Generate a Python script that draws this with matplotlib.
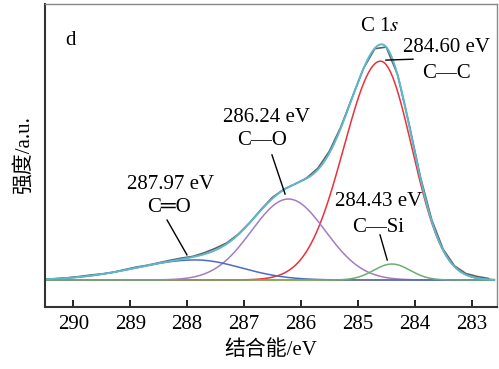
import numpy as np
import matplotlib
matplotlib.use('Agg')
import matplotlib.pyplot as plt

plt.rcParams['font.family'] = ['Liberation Serif', 'DejaVu Sans', 'Noto Sans CJK SC']
plt.rcParams['mathtext.fontset'] = 'stix'

# fitted components: centre, height, left / right sigma (eV)
names = ["C—C", "C—O", "C═O", "C—Si"]
centers = [284.60, 286.22, 287.85, 284.40]
heights = [0.916, 0.339, 0.084, 0.067]
sig_left = [0.645, 0.65, 1.05, 0.32]
sig_right = [0.55, 0.65, 0.80, 0.32]
colors = ["#e8323c", "#a47cc2", "#4a6cc8", "#6aae72"]

# measured spectrum: deviation from the envelope, every 0.2 eV
e_meas = np.round(np.arange(290.5, 282.55, -0.2), 2)
resid = [0.0, 0.0, 0.001, 0.002, 0.003, 0.001, 0.0, 0.002, 0.003, 0.001,
         0.002, 0.004, 0.005, 0.003, 0.006, 0.008, 0.004, 0.002, 0.001, 0.003,
         0.005, 0.002, 0.0, 0.002, 0.006, 0.008, 0.005, 0.002, 0.0, -0.002,
         0.0, 0.002, 0.004, 0.005, 0.006, 0.004, 0.003, 0.005, 0.007, 0.004]

energy = np.linspace(290.6, 282.6, 800)


def peak(e, c, h, sl, sr):
    s = np.where(e > c, sl, sr)
    return h * np.exp(-(e - c) ** 2 / (2 * s ** 2))


fig = plt.figure(figsize=(4.99, 3.69), dpi=100)
ax = fig.add_axes([0.0902, 0.168, 0.906, 0.821])

comps = [peak(energy, c, h, a, b) for c, h, a, b in zip(centers, heights, sig_left, sig_right)]
envelope = np.sum(comps, axis=0)
meas = np.sum([peak(e_meas, c, h, a, b) for c, h, a, b in
               zip(centers, heights, sig_left, sig_right)], axis=0) + np.array(resid)

ax.plot(energy, np.zeros_like(energy), color="#d8a21e", lw=1.3)
for y, col in zip(comps, colors):
    ax.plot(energy, y, color=col, lw=1.1)
ax.plot(e_meas, meas, color="#606060", lw=1.2)
ax.plot(energy, envelope, color="#5cb8cc", lw=1.4)

ax.set_xlim(290.5, 282.55)
ax.set_ylim(-0.113, 1.155)
ax.set_xticks([290, 289, 288, 287, 286, 285, 284, 283])
ax.set_yticks([])
ax.tick_params(axis='x', direction='in', length=5, width=1.2, labelsize=15, pad=6)
for s in ['left', 'bottom']:
    ax.spines[s].set_linewidth(1.5)
    ax.spines[s].set_color('#333333')
for s in ['top', 'right']:
    ax.spines[s].set_linewidth(1.0)
    ax.spines[s].set_color('#888888')

ax.set_xlabel("结合能/eV", fontsize=15, labelpad=4)
ax.set_ylabel("强度/a.u.", fontsize=15, labelpad=8)

fs = 15
ax.text(0.044, 0.881, "d", transform=ax.transAxes, fontsize=fs, va='center', ha='left')
ax.text(0.741, 0.927, "C 1$\\mathit{s}$", transform=ax.transAxes, fontsize=fs, ha='center', va='center')
ax.text(0.889, 0.855, "284.60 eV", transform=ax.transAxes, fontsize=fs, ha='center', va='center')
ax.text(0.889, 0.772, names[0], transform=ax.transAxes, fontsize=fs, ha='center', va='center')
ax.text(0.491, 0.627, "286.24 eV", transform=ax.transAxes, fontsize=fs, ha='center', va='center')
ax.text(0.480, 0.548, names[1], transform=ax.transAxes, fontsize=fs, ha='center', va='center')
ax.text(0.277, 0.406, "287.97 eV", transform=ax.transAxes, fontsize=fs, ha='center', va='center')
ax.text(0.274, 0.330, names[2], transform=ax.transAxes, fontsize=fs, ha='center', va='center')
ax.text(0.737, 0.347, "284.43 eV", transform=ax.transAxes, fontsize=fs, ha='center', va='center')
ax.text(0.737, 0.264, names[3], transform=ax.transAxes, fontsize=fs, ha='center', va='center')

# leader lines (axes fractions)
leaders = [((0.754, 0.815), (0.814, 0.818)),
           ((0.502, 0.502), (0.531, 0.373)),
           ((0.270, 0.287), (0.314, 0.172)),
           ((0.741, 0.238), (0.757, 0.155))]
for (x0, y0), (x1, y1) in leaders:
    ax.plot([x0, x1], [y0, y1], color='black', lw=1.0, transform=ax.transAxes)

fig.savefig("out.png", dpi=100)
